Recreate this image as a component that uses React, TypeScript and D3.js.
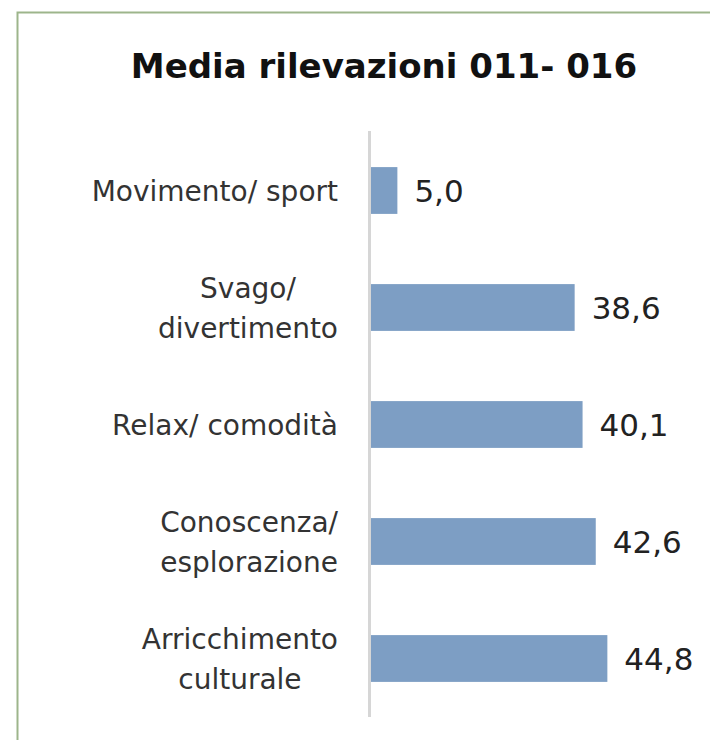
import React, { useEffect, useRef } from "react";
import * as d3 from "d3";

// data
const categories = [
  "Movimento/ sport",
  "Svago/ divertimento",
  "Relax/ comodità",
  "Conoscenza/ esplorazione",
  "Arricchimento culturale"
];
const labelLines = [
  ["Movimento/ sport"],
  ["Svago/", "divertimento"],
  ["Relax/ comodità"],
  ["Conoscenza/", "esplorazione"],
  ["Arricchimento", "culturale"]
];
const values = [5.0, 38.6, 40.1, 42.6, 44.8];
const title = "Media rilevazioni 011- 016";

const W = 710;
const H = 740;

const App: React.FC = () => {
  const svgRef = useRef<SVGSVGElement>(null);

  // dimensions
  const axisX = 371;
  const plotTop = 132;
  const plotBottom = 717;
  const labelRight = 338;

  const x = d3.scaleLinear().domain([0, 50]).range([axisX, axisX + 263.8]);
  const y = d3
    .scaleBand()
    .domain(categories)
    .range([plotTop, plotBottom])
    .paddingInner(0.6)
    .paddingOuter(0.3);

  useEffect(() => {
    if (svgRef.current === null) return;
    const svg = d3.select(svgRef.current);
    svg.selectAll("*").remove();

    // frame
    svg
      .append("path")
      .attr("d", `M17.5,${H} L17.5,12.5 L${W},12.5`)
      .attr("fill", "none")
      .attr("stroke", "#9db58b")
      .attr("stroke-width", 2);

    // title
    svg
      .append("text")
      .attr("x", 384)
      .attr("y", 78)
      .attr("text-anchor", "middle")
      .attr("font-family", "DejaVu Sans")
      .attr("font-weight", "bold")
      .attr("font-size", 34)
      .attr("fill", "#111")
      .text(title);

    // bars
    const data = categories.map((c, i) => ({ name: c, value: values[i], lines: labelLines[i] }));

    svg
      .append("g")
      .selectAll("rect")
      .data(data)
      .enter()
      .append("rect")
      .attr("x", x(0))
      .attr("y", d => y(d.name) as number)
      .attr("width", d => x(d.value) - x(0))
      .attr("height", y.bandwidth())
      .attr("fill", "#7d9ec4");

    // axis line
    svg
      .append("line")
      .attr("x1", axisX - 1.5)
      .attr("x2", axisX - 1.5)
      .attr("y1", plotTop - 1)
      .attr("y2", plotBottom)
      .attr("stroke", "#d6d6d6")
      .attr("stroke-width", 3);

    // value labels
    svg
      .append("g")
      .selectAll("text")
      .data(data)
      .enter()
      .append("text")
      .attr("x", d => x(d.value) + 17)
      .attr("y", d => (y(d.name) as number) + y.bandwidth() / 2 + 11)
      .attr("font-family", "DejaVu Sans")
      .attr("font-size", 31)
      .attr("fill", "#222")
      .text(d => d3.format(".1f")(d.value).replace(".", ","));

    // category labels: block right-aligned, lines centred inside block
    const labels = svg
      .append("g")
      .attr("font-family", "DejaVu Sans")
      .attr("font-size", 28)
      .attr("fill", "#333");

    data.forEach(d => {
      const cy = (y(d.name) as number) + y.bandwidth() / 2;
      const n = d.lines.length;
      const g = labels.append("g");
      const texts = g
        .selectAll("text")
        .data(d.lines)
        .enter()
        .append("text")
        .attr("y", (_, i) => cy + 10 + (i - (n - 1) / 2) * 40)
        .attr("text-anchor", "middle")
        .text(t => t);
      let maxW = 0;
      texts.each(function () {
        maxW = Math.max(maxW, (this as SVGTextElement).getComputedTextLength());
      });
      texts.attr("x", labelRight - maxW / 2);
    });
  }, []);

  return (
    <svg
      ref={svgRef}
      width={W}
      height={H}
      style={{ position: "absolute", left: 0, top: 0, background: "#fff" }}
    />
  );
};

export default App;
